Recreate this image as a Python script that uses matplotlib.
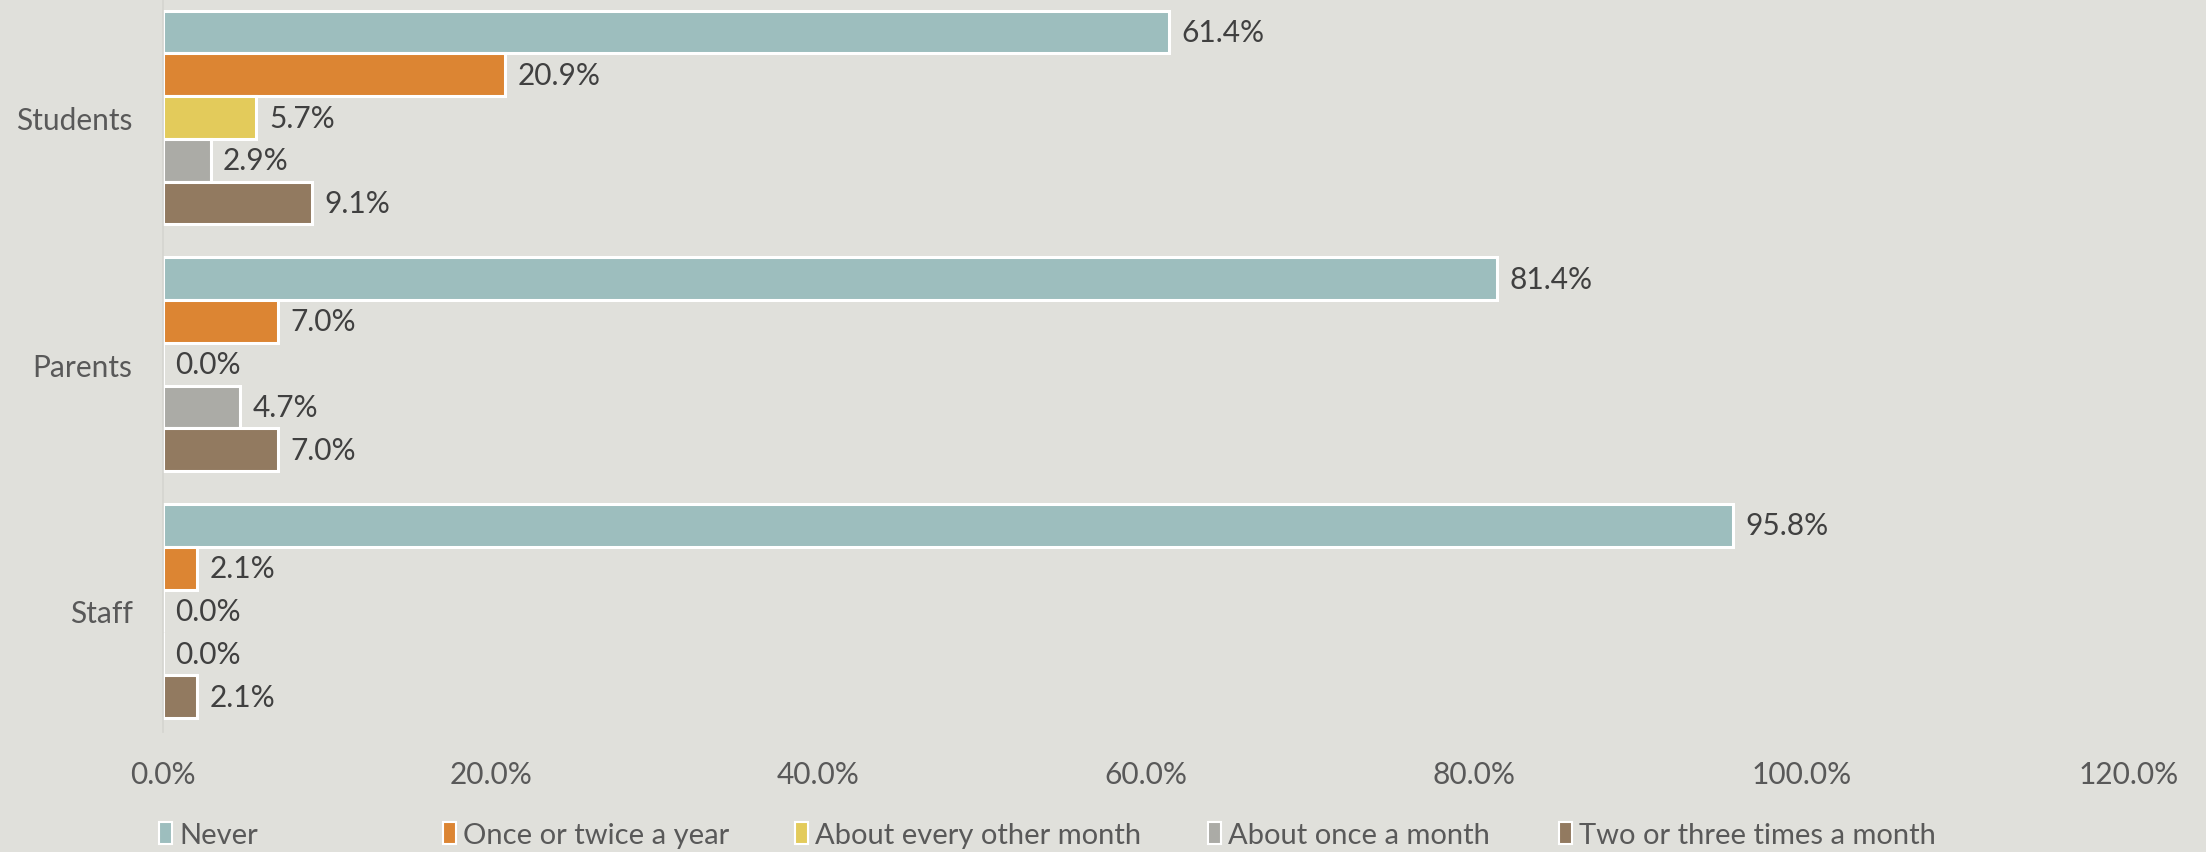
import numpy as np
import matplotlib
matplotlib.use("Agg")
import matplotlib.pyplot as plt
from matplotlib.patches import Patch
from matplotlib.ticker import FuncFormatter

# data
groups = ["Students", "Parents", "Staff"]
series = ["Never", "Once or twice a year", "About every other month",
          "About once a month", "Two or three times a month"]
never = [0.614, 0.814, 0.958]
once_twice_year = [0.209, 0.070, 0.021]
every_other_month = [0.057, 0.000, 0.000]
once_month = [0.029, 0.047, 0.000]
two_three_month = [0.091, 0.070, 0.021]

colors = ["#9DBEBE", "#DC8533", "#E3CB5B", "#ABABA6", "#927A60"]
bg = "#E0E0DB"

plt.rcParams["font.family"] = ["Lato", "DejaVu Sans"]

fig = plt.figure(figsize=(22.06, 8.53), dpi=100, facecolor=bg)
ax = fig.add_axes([163 / 2206, 120 / 853, (2129 - 163) / 2206, 733 / 853])
ax.set_facecolor(bg)

values = [never, once_twice_year, every_other_month, once_month, two_three_month]
group_step = 5.77
for i, (name, vals, col) in enumerate(zip(series, values, colors)):
    y = np.arange(len(groups)) * group_step + i
    bars = ax.barh(y, vals, height=1.0, color=col, edgecolor="white",
                   linewidth=2.2, label=name)
    for b, v in zip(bars, vals):
        ax.annotate(f"{v:.1%}", (v, b.get_y() + b.get_height() / 2),
                    xytext=(9, 0), textcoords="offset points",
                    ha="left", va="center", fontsize=21.5, color="#404040")

ax.set_xlim(0, 1.2)
ax.set_ylim(16.37, -0.772)
ax.set_xticks(np.arange(0, 1.21, 0.2))
ax.xaxis.set_major_formatter(FuncFormatter(lambda x, _: f"{x:.1%}"))
ax.set_yticks(np.arange(len(groups)) * group_step + 2)
ax.set_yticklabels(groups)
ax.tick_params(axis="x", length=0, pad=20, labelsize=21.5, labelcolor="#595959")
ax.tick_params(axis="y", length=0, pad=22, labelsize=21.5, labelcolor="#595959")

for s in ["top", "right", "bottom"]:
    ax.spines[s].set_visible(False)
ax.spines["left"].set_color("#D4D4CF")
ax.spines["left"].set_linewidth(1.2)

# legend entries spaced like the original
legend_x = [159, 443, 795, 1208, 1559]
for name, col, lx in zip(series, colors, legend_x):
    h = Patch(facecolor=col, edgecolor="white", linewidth=1.5, label=name)
    fig.legend(handles=[h], loc="center left", bbox_to_anchor=(lx / 2206, 1 - 836 / 853),
               frameon=False, fontsize=21, labelcolor="#595959",
               handlelength=0.45, handleheight=0.75, handletextpad=0.25,
               borderpad=0, borderaxespad=0)

fig.savefig("out.png", dpi=100, facecolor=bg)
